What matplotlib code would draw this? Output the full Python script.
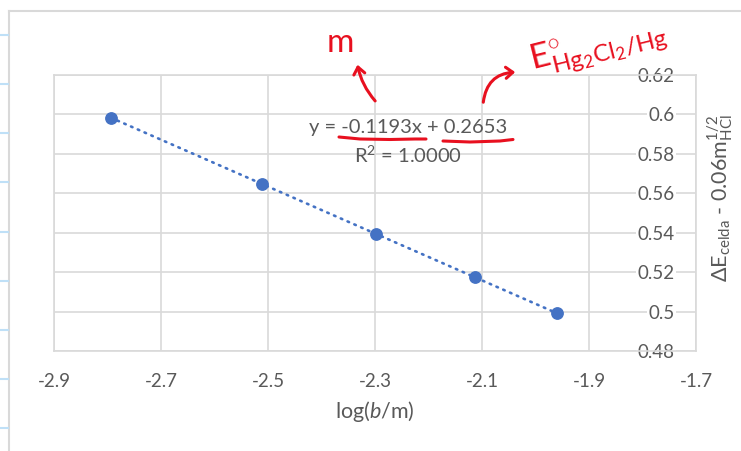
import numpy as np
import matplotlib
matplotlib.use("Agg")
import matplotlib.pyplot as plt
from matplotlib.lines import Line2D
from matplotlib.patches import FancyArrowPatch

# data
log_b = [-2.794, -2.512, -2.2975, -2.114, -1.960]
delta_e = [0.5983, 0.5649, 0.5394, 0.5175, 0.4991]
x_ticks = [-2.9, -2.7, -2.5, -2.3, -2.1, -1.9, -1.7]
y_ticks = [0.48, 0.50, 0.52, 0.54, 0.56, 0.58, 0.60, 0.62]
y_tick_labels = ["0.48", "0.5", "0.52", "0.54", "0.56", "0.58", "0.6", "0.62"]
x_tick_labels = ["-2.9", "-2.7", "-2.5", "-2.3", "-2.1", "-1.9", "-1.7"]
eq_text = "y = -0.1193x + 0.2653"
r2_text = "R$^2$ = 1.0000"

plt.rcParams['font.family'] = ['Lato', 'DejaVu Sans']
plt.rcParams['mathtext.fontset'] = 'custom'
plt.rcParams['mathtext.rm'] = 'Lato'
plt.rcParams['mathtext.it'] = 'Lato:italic'
plt.rcParams['mathtext.bf'] = 'Lato:bold'

W, H = 741, 451
gray_txt = '#595959'
grid_c = '#d9d9d9'
blue = '#4472c4'
red = '#e8101f'


def fp(x, y):
    # pixel -> figure fraction
    return (x / W, 1 - y / H)


fig = plt.figure(figsize=(W / 100, H / 100), dpi=100)
ax = fig.add_axes([54 / W, 1 - 351 / H, 642 / W, 276 / H])

# trendline
slope, icpt = np.polyfit(log_b, delta_e, 1)
xs = np.array([min(log_b), max(log_b)])
ax.plot(xs, slope * xs + icpt, color=blue, lw=1.9, ls=(0, (0.6, 2.2)),
        dash_capstyle='round', zorder=3)
ax.plot(log_b, delta_e, 'o', color=blue, ms=8.2, mec=blue, zorder=4)

ax.set_xlim(-2.9, -1.7)
ax.set_ylim(0.48, 0.62)
ax.set_xticks(x_ticks)
ax.set_xticklabels(x_tick_labels)
ax.set_yticks(y_ticks)
ax.set_yticklabels(y_tick_labels)
ax.grid(True, color=grid_c, lw=1.2)
ax.set_axisbelow(True)
for s in ax.spines.values():
    s.set_color(grid_c)
    s.set_linewidth(1.2)

ax.tick_params(axis='x', length=0, pad=16, labelsize=13.5, labelcolor=gray_txt)
ax.tick_params(axis='y', length=0, left=False, labelleft=False,
               labelright=True, pad=-15.5, labelsize=13.5, labelcolor=gray_txt)
for lab in ax.get_yticklabels():
    lab.set_horizontalalignment('right')
    lab.set_bbox(dict(facecolor='white', edgecolor='none', pad=1.0))

ax.set_xlabel(r'log($\mathit{b}$/m)', fontsize=15.5, color=gray_txt)
ax.xaxis.set_label_coords(0.5, -0.221)
ax.xaxis.label.set_verticalalignment('center')
ax.yaxis.set_label_position('right')
ax.set_ylabel(r'$\Delta$E$_{\mathrm{celda}}$ - 0.06m$_{\mathrm{HCl}}^{\mathrm{1/2}}$',
              fontsize=15.5, color=gray_txt, rotation=90)
ax.yaxis.set_label_coords(1.038, 0.554)
ax.yaxis.label.set_verticalalignment('center')
ax.yaxis.label.set_horizontalalignment('center')

# trendline equation
ax.text(-2.238, 0.5935, eq_text, fontsize=14.5,
        color=gray_txt, ha='center', va='center')
ax.text(-2.238, 0.5793, r2_text, fontsize=14.5,
        color=gray_txt, ha='center', va='center')

# chart border and sheet gridline stubs
fig.add_artist(Line2D([fp(8.5, 0)[0], fp(8.5, 0)[0]], [fp(0, 11)[1], 0],
                      color=grid_c, lw=1.5))
fig.add_artist(Line2D([fp(8.5, 0)[0], 1], [fp(0, 11)[1], fp(0, 11)[1]],
                      color=grid_c, lw=1.5))
for yy in [35, 84, 133, 182, 232, 281, 330, 379, 428]:
    fig.add_artist(Line2D([0, 7.5 / W], [fp(0, yy)[1]] * 2,
                          color='#bfe0f7', lw=1.5))

# red handwritten notes
fig.text(*fp(340, 43), 'm', color=red, fontsize=24, ha='center', va='center')
fig.add_artist(FancyArrowPatch(fp(377, 103), fp(357, 62),
                               transform=fig.transFigure,
                               connectionstyle='arc3,rad=-0.15',
                               arrowstyle='->,head_length=5,head_width=4',
                               color=red, lw=2.2))
fig.text(*fp(598, 47), r'$\mathrm{E}^{\circ}_{\mathrm{Hg_2Cl_2/Hg}}$',
         color=red, fontsize=25, ha='center', va='center', rotation=14)
fig.add_artist(FancyArrowPatch(fp(483, 105), fp(518, 72),
                               transform=fig.transFigure,
                               connectionstyle='arc3,rad=-0.45',
                               arrowstyle='->,head_length=5,head_width=4',
                               color=red, lw=2.2))
u1x = [339, 360, 390, 415, 426]
u1y = [137, 139, 139.5, 139, 139]
fig.add_artist(Line2D([fp(x, 0)[0] for x in u1x], [fp(0, y)[1] for y in u1y],
                      color=red, lw=2.2, solid_capstyle='round'))
u2x = [443, 470, 500, 513]
u2y = [141, 142, 141, 139.5]
fig.add_artist(Line2D([fp(x, 0)[0] for x in u2x], [fp(0, y)[1] for y in u2y],
                      color=red, lw=2.2, solid_capstyle='round'))

fig.savefig('out.png', dpi=100)
